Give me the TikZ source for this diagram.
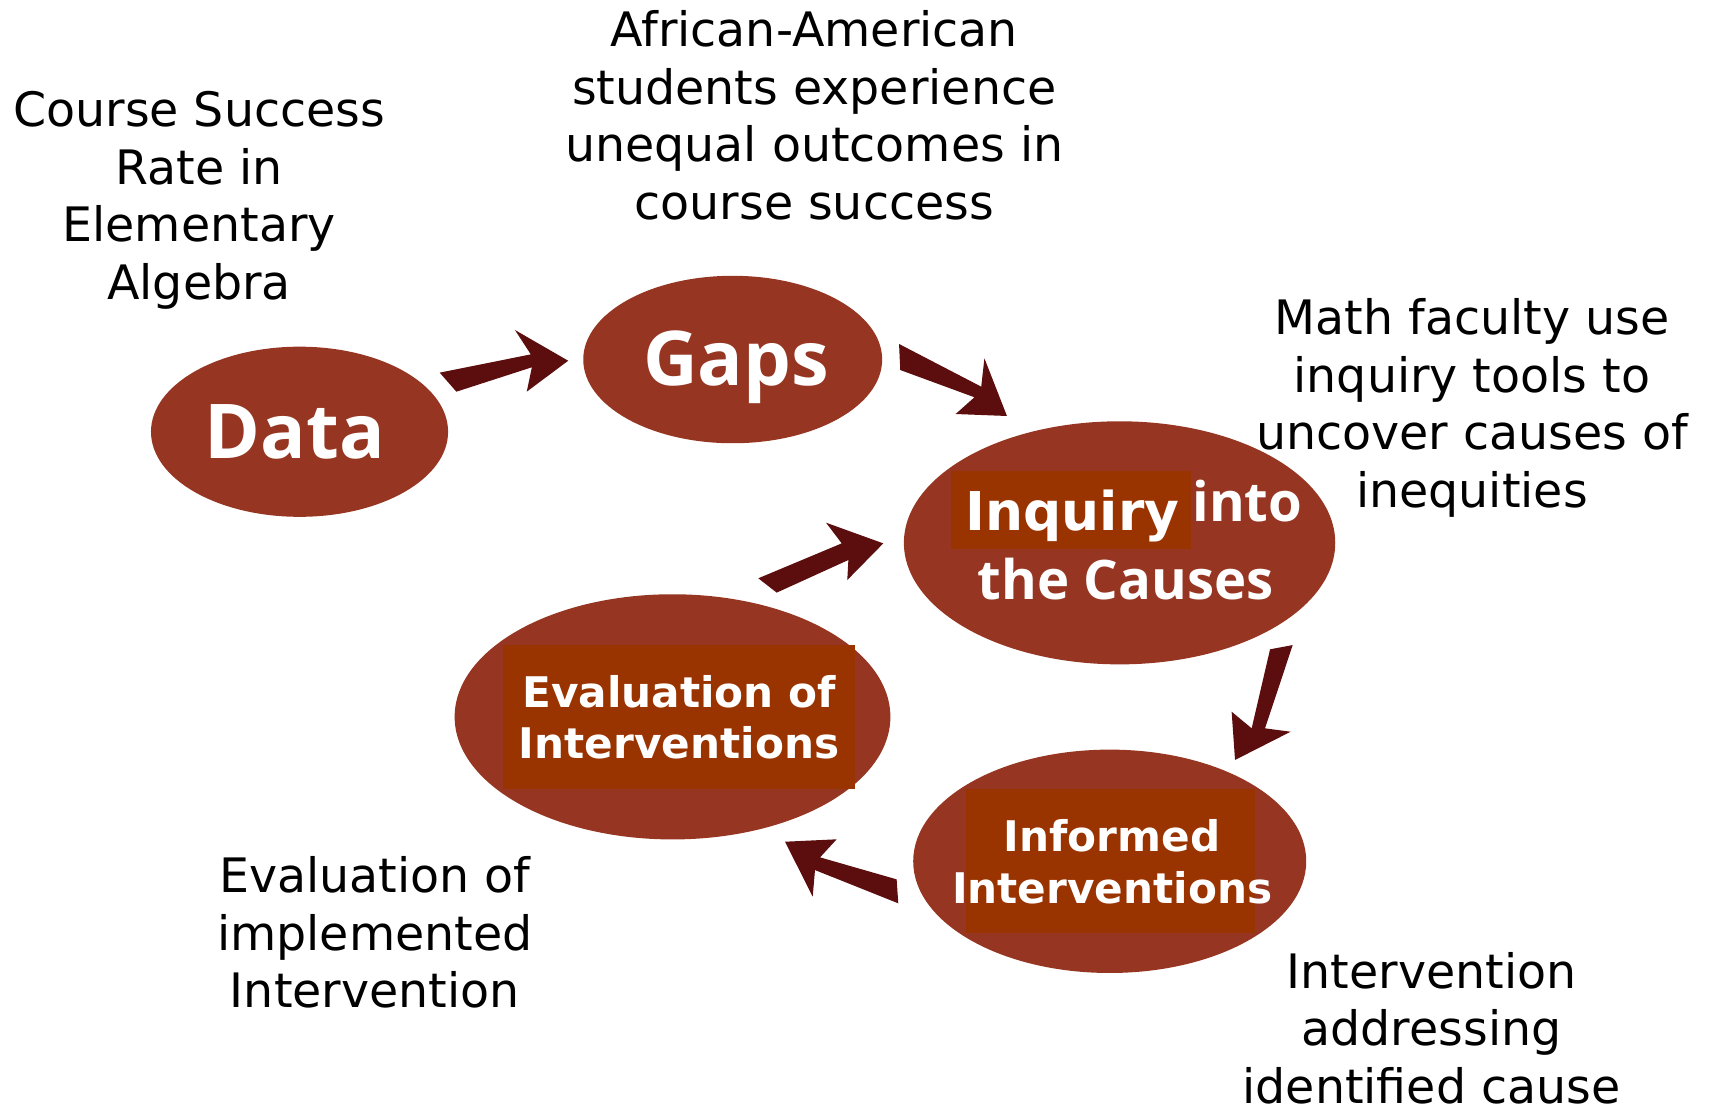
\documentclass[tikz,border=0pt]{standalone}
\usepackage{fontspec}
\setmainfont{DejaVu Sans}
\newfontfamily\headfont{Open Sans}
\usetikzlibrary{shapes.geometric}
\definecolor{bubble}{HTML}{963622}
\definecolor{patch}{HTML}{993300}
\definecolor{arrowc}{HTML}{5C0E0E}

\begin{document}
\begin{tikzpicture}[x=0.010944cm, y=-0.010944cm,
  bubble/.style={ellipse, fill=bubble, draw=none, inner sep=0},
  patch/.style={rectangle, fill=patch, draw=none, inner sep=0},
  bigword/.style={text=white, inner sep=0, anchor=base, font=\headfont\bfseries\fontsize{21.5}{26}\selectfont},
  midword/.style={text=white, inner sep=0, font=\headfont\bfseries\fontsize{15.5}{18}\selectfont},
  boxword/.style={text=white, inner sep=0, anchor=base, align=center},
  note/.style={text=black, inner sep=0, anchor=base, align=center, font=\fontsize{13.5}{16.35}\selectfont},
  blockarrow/.style={fill=arrowc, draw=none}]

\useasboundingbox (0,0) rectangle (1568,1012);

% ellipses
\node[bubble, minimum width=2.970cm, minimum height=1.701cm] (data) at (273.7,394.5) {};
\node[bubble, minimum width=2.988cm, minimum height=1.674cm] (gaps) at (669.5,328.5) {};
\node[bubble, minimum width=4.312cm, minimum height=2.430cm] (inquiry) at (1023,496) {};
\node[bubble, minimum width=4.356cm, minimum height=2.451cm] (evaluation) at (614.5,655) {};
\node[bubble, minimum width=3.929cm, minimum height=2.233cm] (informed) at (1014,787) {};

% highlight patches behind the labels
\node[patch, minimum width=2.397cm, minimum height=0.784cm] (inqpatch) at (978.5,465.8) {};
\node[patch, minimum width=3.513cm, minimum height=1.445cm] (evalpatch) at (620.5,655) {};
\node[patch, minimum width=2.887cm, minimum height=1.442cm] (infpatch) at (1014.9,786.9) {};

% labels inside the ellipses (multi-line labels are anchored on their last baseline)
\node[bigword] (datalbl) at (269.5,418.6) {Data};
\node[bigword] (gapslbl) at (672.6,351.8) {Gaps};
\node[text=white, inner sep=0, anchor=base, font=\bfseries\fontsize{15.2}{18}\selectfont] (inqlbl) at (980,484.3) {Inquiry};
\node[midword, anchor=base west] (intolbl) at (1089,476.7) {into};
\node[midword, anchor=base] (causelbl) at (1028.7,548.2) {the Causes};
\node[boxword, font=\bfseries\fontsize{12}{14.5}\selectfont] (evallbl) at (620.5,692.9) {Evaluation of\\Interventions};
\node[boxword, font=\bfseries\fontsize{12}{14.65}\selectfont] (inflbl) at (1016.2,825.4) {Informed\\Interventions};

% explanatory notes
\node[note] (n1) at (182,273.5) {Course Success\\Rate in\\Elementary\\Algebra};
\node[note] (n2) at (744,200.5) {African-American\\students experience\\unequal outcomes in\\course success};
\node[note] (n3) at (1345,463.5) {Math faculty use\\inquiry tools to\\uncover causes of\\inequities};
\node[note] (n4) at (342.5,921) {Evaluation of\\implemented\\Intervention};
\node[note] (n5) at (1308,1008) {Intervention\\addressing\\identified cause};

% block arrows of the cycle
\fill[blockarrow] (401.8,340.5) -- (485,323.8) -- (470.5,301.5) -- (519.2,329.6) -- (481.3,357.9) -- (486,335.6) -- (417,357.9) -- cycle;
\fill[blockarrow] (821.5,314.3) -- (896.6,353.3) -- (899.5,327.4) -- (920.1,380.1) -- (873.2,378.3) -- (890.4,363) -- (822.6,338.1) -- cycle;
\fill[blockarrow] (1160.5,593.3) -- (1181.2,589.4) -- (1155.9,665.5) -- (1179.3,668.6) -- (1128.5,694.4) -- (1125.4,650.3) -- (1143.7,665.5) -- cycle;
\fill[blockarrow] (819.3,803.5) -- (820.8,825.4) -- (744.7,795) -- (742.6,819.3) -- (717.3,769.1) -- (764.5,766.9) -- (749.3,783.4) -- cycle;
\fill[blockarrow] (692.9,528.4) -- (769.1,496.5) -- (754.8,477.6) -- (807.1,496.5) -- (774.2,530) -- (775.2,511.7) -- (709.7,541.5) -- cycle;

\end{tikzpicture}
\end{document}
